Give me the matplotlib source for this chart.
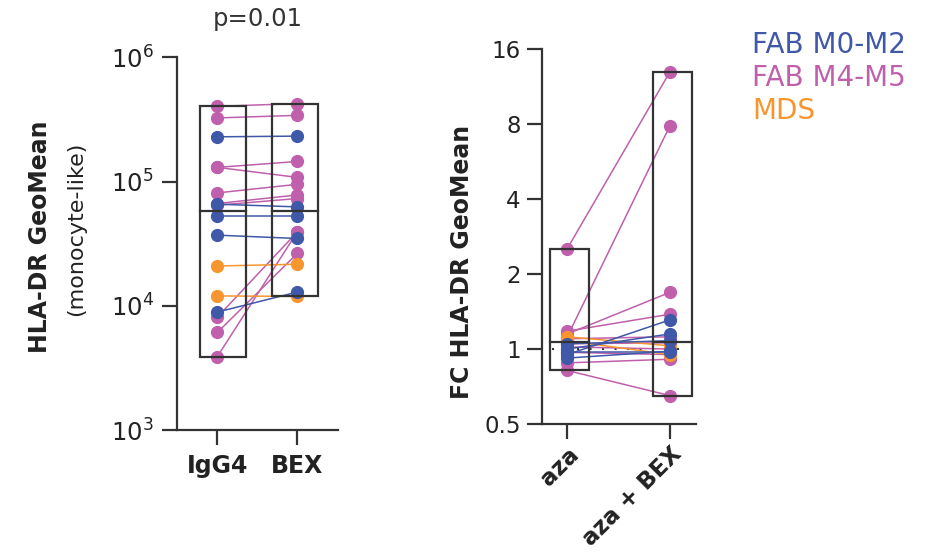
import numpy as np
import matplotlib.pyplot as plt
from matplotlib.patches import Rectangle

# colours per group
groups = ["FAB M0-M2", "FAB M4-M5", "MDS"]
group_colors = ["#3f58a8", "#c060ac", "#f7962e"]

# left panel: HLA-DR GeoMean (monocyte-like), IgG4 vs BEX
hla_labels = ["IgG4", "BEX"]
igg4_m0m2 = [2.29e5, 6.57e4, 5.26e4, 3.70e4, 8.9e3]
bex_m0m2 = [2.32e5, 6.25e4, 5.26e4, 3.48e4, 1.29e4]
igg4_m4m5 = [4.03e5, 3.25e5, 1.30e5, 1.30e5, 8.1e4, 6.65e4, 6.45e4, 8.1e3, 6.1e3, 3.9e3]
bex_m4m5 = [4.24e5, 3.41e5, 1.45e5, 1.08e5, 9.5e4, 7.8e4, 7.3e4, 3.93e4, 2.64e4, 3.93e4]
igg4_mds = [2.09e4, 1.20e4]
bex_mds = [2.16e4, 1.19e4]
hla_center = [5.8e4, 5.8e4]
p_text = "p=0.01"

# right panel: FC HLA-DR GeoMean, aza vs aza + BEX
fc_labels = ["aza", "aza + BEX"]
aza_m0m2 = [0.95, 1.00, 1.05, 0.92, 0.97]
azabex_m0m2 = [1.31, 1.15, 1.08, 0.98, 0.97]
aza_m4m5 = [2.53, 1.12, 1.15, 1.18, 1.10, 1.05, 1.02, 0.97, 0.88, 0.82]
azabex_m4m5 = [13.0, 7.9, 1.69, 1.38, 1.12, 1.06, 1.00, 0.95, 0.91, 0.65]
aza_mds = [1.12, 1.08]
azabex_mds = [1.03, 0.95]
fc_center = [1.07, 1.07]

dark = "#333333"
plt.rcParams['font.family'] = ['DejaVu Sans']

fig = plt.figure(figsize=(9.45, 5.54), dpi=100)
ax1 = fig.add_axes([0.187, 0.2238, 0.1707, 0.6728])
ax2 = fig.add_axes([0.5732, 0.2347, 0.1633, 0.6763])


def style(ax):
    for s in ["top", "right"]:
        ax.spines[s].set_visible(False)
    for s in ["left", "bottom"]:
        ax.spines[s].set_color(dark)
        ax.spines[s].set_linewidth(1.6)
    ax.minorticks_off()
    ax.tick_params(axis="both", which="major", color=dark, width=1.6,
                   length=10.5, labelcolor="#222222")
    ax.tick_params(axis="both", which="minor", length=0)


def draw_pairs(ax, pairs, boxw, center, shift):
    allx = []
    for a, b, c in pairs:
        for ya, yb in zip(a, b):
            ax.plot([0, 1], [ya, yb], color=c, lw=1.1, zorder=2,
                    marker="o", ms=8.5, mec=c, mfc=c)
        allx.append((a, b))
    left = np.concatenate([p[0] for p in allx])
    right = np.concatenate([p[1] for p in allx])
    for i, vals in enumerate([left, right]):
        lo, hi = min(vals), max(vals)
        x0 = i + shift[i] - boxw / 2
        ax.add_patch(Rectangle((x0, lo), boxw, hi - lo, fill=False,
                               ec=dark, lw=1.6, zorder=3))
        ax.plot([x0, x0 + boxw], [center[i], center[i]],
                color=dark, lw=1.6, zorder=3)


# left panel
draw_pairs(ax1, [(igg4_m4m5, bex_m4m5, group_colors[1]),
                 (igg4_mds, bex_mds, group_colors[2]),
                 (igg4_m0m2, bex_m0m2, group_colors[0])], 0.575, hla_center,
           [0.07, -0.03])
ax1.set_yscale("log")
ax1.set_ylim(1e3, 1e6)
ax1.set_xlim(-0.508, 1.509)
style(ax1)
ax1.set_yticks([1e3, 1e4, 1e5, 1e6])
ax1.set_yticklabels([r"$\mathregular{10^{%d}}$" % k for k in [3, 4, 5, 6]],
                    fontsize=17.5)
ax1.tick_params(axis="y", pad=6)
ax1.set_xticks([0, 1])
ax1.set_xticklabels(hla_labels, fontsize=17, fontweight="bold")
ax1.tick_params(axis="x", pad=7)
ax1.text(0.5, 1.07, p_text, transform=ax1.transAxes, ha="center",
         va="bottom", fontsize=17.5, color=dark)
fig.text(40 / 945, 1 - 237 / 554, "HLA-DR GeoMean", rotation=90, ha="center",
         va="center", fontsize=17, fontweight="bold", color="#222222")
fig.text(76 / 945, 1 - 229 / 554, "(monocyte-like)", rotation=90, ha="center",
         va="center", fontsize=16, color="#222222")

# right panel
draw_pairs(ax2, [(aza_m4m5, azabex_m4m5, group_colors[1]),
                 (aza_mds, azabex_mds, group_colors[2]),
                 (aza_m0m2, azabex_m0m2, group_colors[0])], 0.38, fc_center,
           [0.025, 0.02])
ax2.plot([-0.15, 1.146], [1, 1], color=dark, lw=1.5, ls=(0, (1, 5)), zorder=1)
ax2.set_yscale("log", base=2)
ax2.set_ylim(0.5, 16)
ax2.set_xlim(-0.249, 1.253)
style(ax2)
ax2.set_yticks([0.5, 1, 2, 4, 8, 16])
ax2.set_yticklabels(["0.5", "1", "2", "4", "8", "16"], fontsize=16.5)
ax2.tick_params(axis="y", pad=4.5)
ax2.set_xticks([0, 1])
ax2.set_xticklabels(fc_labels, fontsize=16.5, fontweight="bold", rotation=45,
                    ha="right", va="top", rotation_mode="anchor")
ax2.tick_params(axis="x", pad=3)
fig.text(462 / 945, 1 - 262 / 554, "FC HLA-DR GeoMean", rotation=90,
         ha="center", va="center", fontsize=17, fontweight="bold",
         color="#222222")

# legend as coloured text
for k, (g, c) in enumerate(zip(groups, group_colors)):
    fig.text(752 / 945, 1 - (45 + 33 * k) / 554, g, color=c, fontsize=20,
             ha="left", va="center")

plt.savefig("out.png", dpi=100)
